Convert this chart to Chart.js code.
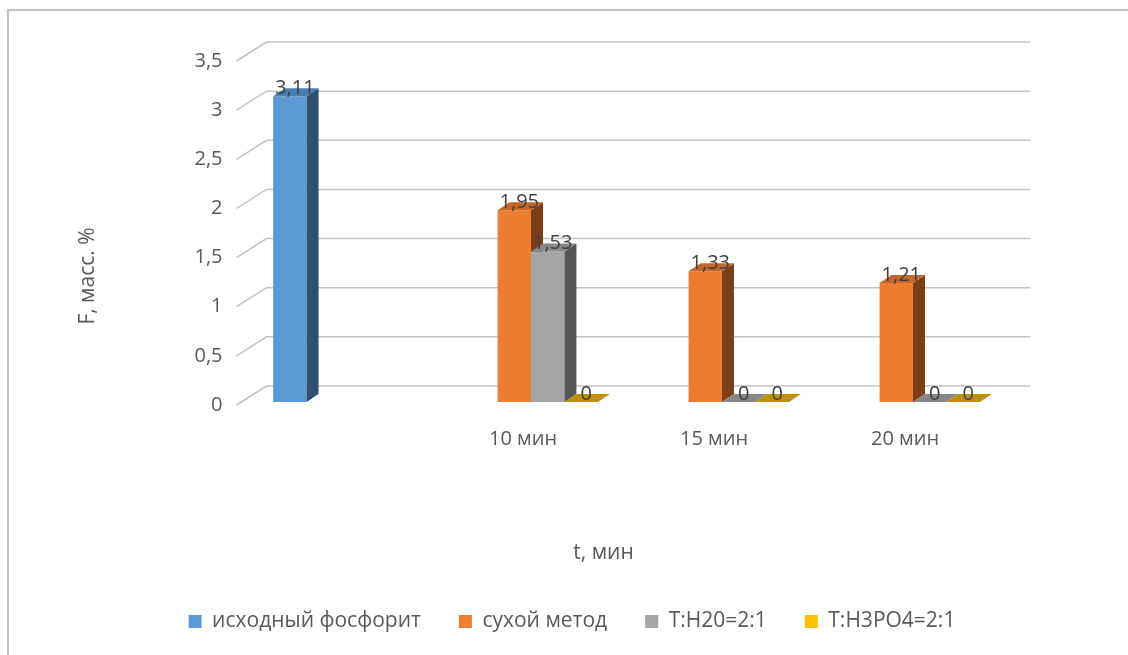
<!DOCTYPE html>
<html>
<head>
<meta charset="utf-8">
<script src="https://cdn.jsdelivr.net/npm/chart.js@4"></script>
<style>
  html, body { margin: 0; padding: 0; background: #fff; }
  #wrap { position: relative; width: 1128px; height: 655px; overflow: hidden; }
  #frame { position: absolute; left: 7px; top: 9px; width: 1200px; height: 700px;
           border-left: 2px solid #c4c4c4; border-top: 2px solid #c4c4c4; }
  canvas { position: absolute; left: 0; top: 0; }
</style>
</head>
<body>
<div id="wrap">
  <div id="frame"></div>
  <canvas id="statsChart" width="1128" height="655"></canvas>
</div>
<script>
const categories = ["", "10 мин", "15 мин", "20 мин"];
const seriesNames = ["исходный фосфорит", "сухой метод", "Т:Н20=2:1", "Т:Н3РО4=2:1"];
const initialValues = [3.11, null, null, null];
const dryValues = [null, 1.95, 1.33, 1.21];
const waterValues = [null, 1.53, 0, 0];
const acidValues = [null, 0, 0, 0];
const yTicks = [0, 0.5, 1, 1.5, 2, 2.5, 3, 3.5];

const frontColors = ["#5b9bd5", "#ed7d31", "#a5a5a5", "#ffc000"];
const sideColors = ["#2f506f", "#7b3e17", "#555555", "#806000"];
const topColors = ["#4a7eaf", "#c4672a", "#878787", "#bf9000"];

const FONT = "'Open Sans', sans-serif";
const TEXT = "#595959";

// fake 3d: bar depth, back wall offset, and how far bars sit behind the front plane
const depth = { dx: 12, dy: -8 };
const wall = { dx: 30, dy: -19 };
const shift = { x: 8, y: -3 };

const ctx = document.getElementById("statsChart").getContext("2d");

const fmt = v => String(v).replace(".", ",");

function poly(c, pts, color) {
  c.beginPath();
  c.moveTo(pts[0][0], pts[0][1]);
  for (let i = 1; i < pts.length; i++) c.lineTo(pts[i][0], pts[i][1]);
  c.closePath();
  c.fillStyle = color;
  c.fill();
}

const cubes = {
  id: "cubes",
  beforeDatasetsDraw(chart) {
    const c = chart.ctx;
    const area = chart.chartArea;
    const y = chart.scales.y;
    c.save();
    c.strokeStyle = "#c3c3c3";
    c.lineWidth = 1.5;
    yTicks.forEach(t => {
      const py = y.getPixelForValue(t);
      c.beginPath();
      c.moveTo(area.left, py);
      c.lineTo(area.left + wall.dx, py + wall.dy);
      c.lineTo(area.right + wall.dx, py + wall.dy);
      c.stroke();
    });
    c.restore();
  },
  // the flat bars are replaced by boxes below
  beforeDatasetDraw() {
    return false;
  },
  afterDatasetsDraw(chart) {
    const c = chart.ctx;
    c.save();
    c.translate(shift.x, shift.y);
    // series in order so later ones overlap earlier ones
    chart.data.datasets.forEach((ds, i) => {
      chart.getDatasetMeta(i).data.forEach((bar, j) => {
        const v = ds.data[j];
        if (v == null) return;
        const p = bar.getProps(["x", "y", "base", "width"], true);
        const l = p.x - p.width / 2, r = p.x + p.width / 2;
        if (v > 0) {
          poly(c, [[l, p.y], [r, p.y], [r, p.base], [l, p.base]], frontColors[i]);
          poly(c, [[r, p.y], [r + depth.dx, p.y + depth.dy], [r + depth.dx, p.base + depth.dy], [r, p.base]], sideColors[i]);
        }
        poly(c, [[l, p.y], [l + depth.dx, p.y + depth.dy], [r + depth.dx, p.y + depth.dy], [r, p.y]], topColors[i]);
      });
    });

    c.font = "20px " + FONT;
    c.fillStyle = "#404040";
    c.textAlign = "center";
    c.textBaseline = "middle";
    chart.data.datasets.forEach((ds, i) => {
      chart.getDatasetMeta(i).data.forEach((bar, j) => {
        const v = ds.data[j];
        if (v == null) return;
        const p = bar.getProps(["x", "y"], true);
        c.fillText(fmt(v), p.x + 5, p.y - 8);
      });
    });
    c.restore();

    // axis titles
    const a = chart.chartArea;
    c.save();
    c.font = "21px " + FONT;
    c.fillStyle = TEXT;
    c.textAlign = "center";
    c.textBaseline = "middle";
    c.fillText("t, мин", (a.left + a.right) / 2 - 15, a.bottom + 148);
    c.translate(a.left - 148, (a.top + a.bottom) / 2 + 43);
    c.rotate(-Math.PI / 2);
    c.fillText("F, масс. %", 0, 0);
    c.restore();
  }
};

const seriesValues = [initialValues, dryValues, waterValues, acidValues];

new Chart(ctx, {
  type: "bar",
  data: {
    labels: categories,
    datasets: seriesNames.map((name, i) => ({
      label: name,
      data: seriesValues[i],
      backgroundColor: frontColors[i],
      borderWidth: 0,
      categoryPercentage: 0.7,
      barPercentage: 1,
    })),
  },
  options: {
    responsive: false,
    animation: false,
    layout: { padding: { left: 143.5, right: 127.5, top: 61, bottom: 13 } },
    plugins: {
      tooltip: { enabled: false },
      legend: {
        position: "bottom",
        labels: {
          font: { family: FONT, size: 21 },
          color: TEXT,
          boxWidth: 13,
          boxHeight: 13,
          padding: 38,
        },
      },
    },
    scales: {
      x: {
        grid: { display: false },
        border: { display: false },
        ticks: { font: { family: FONT, size: 20 }, color: TEXT, padding: 14 },
        afterFit: s => { s.height = 168; },
      },
      y: {
        min: 0,
        max: 3.5,
        grid: { display: false },
        border: { display: false },
        afterBuildTicks: s => { s.ticks = yTicks.map(v => ({ value: v })); },
        ticks: {
          font: { family: FONT, size: 20 },
          color: TEXT,
          padding: 6,
          callback: v => fmt(v),
        },
        afterFit: s => { s.width = 93; },
      },
    },
  },
  plugins: [cubes],
});
</script>
</body>
</html>
